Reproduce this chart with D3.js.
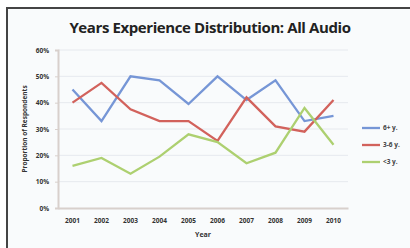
<!DOCTYPE html>
<html>
<head>
<meta charset="utf-8">
<script src="https://cdn.jsdelivr.net/npm/d3@7"></script>
<style>
  body { margin: 0; background: #fff; }
  svg { display: block; }
</style>
</head>
<body>
<svg id="chart" width="410" height="248"></svg>
<script>
const years = ["2001", "2002", "2003", "2004", "2005", "2006", "2007", "2008", "2009", "2010"];
const yTicks = [0, 0.1, 0.2, 0.3, 0.4, 0.5, 0.6];
const seriesNames = ["6+ y.", "3-6 y.", "<3 y."];
const seriesColors = ["#7696d6", "#d2625c", "#add070"];
const sixPlus = [0.45, 0.33, 0.50, 0.485, 0.395, 0.50, 0.41, 0.485, 0.33, 0.35];
const threeToSix = [0.40, 0.475, 0.375, 0.33, 0.33, 0.255, 0.42, 0.31, 0.29, 0.41];
const underThree = [0.16, 0.19, 0.13, 0.195, 0.28, 0.25, 0.17, 0.21, 0.38, 0.24];
const seriesValues = [sixPlus, threeToSix, underThree];

const svg = d3.select("#chart");
const margin = {top: 50, right: 62, bottom: 40, left: 58};
const width = 410 - margin.left - margin.right;
const height = 248 - margin.top - margin.bottom;

// frame
svg.append("rect").attr("x", 7).attr("y", 8).attr("width", 410).attr("height", 248)
    .attr("fill", "#f9fbfc");
svg.append("path").attr("d", "M7,248V8H410")
    .attr("fill", "none").attr("stroke", "#444").attr("stroke-width", 2);

svg.append("text")
    .attr("x", 210).attr("y", 33)
    .attr("text-anchor", "middle")
    .style("font", "bold 15px 'Open Sans', sans-serif")
    .style("letter-spacing", "-0.4px")
    .attr("fill", "#222")
    .text("Years Experience Distribution: All Audio");

const g = svg.append("g").attr("transform", "translate(" + margin.left + "," + margin.top + ")");

const x = d3.scaleBand().domain(years).range([0, width]);
const y = d3.scaleLinear().domain([0, 0.6]).range([height, 0]);

g.selectAll(".grid").data(yTicks.slice(1))
  .enter().append("line")
    .attr("class", "grid")
    .attr("x1", 0).attr("x2", width)
    .attr("y1", function(d) { return y(d); })
    .attr("y2", function(d) { return y(d); })
    .attr("stroke", "#e6e9ee").attr("stroke-width", 1);

const yAxis = g.append("g")
    .call(d3.axisLeft(y).tickValues(yTicks).tickFormat(d3.format(".0%")).tickSize(3).tickPadding(6));
const xAxis = g.append("g")
    .attr("transform", "translate(0," + height + ")")
    .call(d3.axisBottom(x).tickSize(0).tickPadding(10));

[yAxis, xAxis].forEach(function(a) {
  a.select(".domain").attr("stroke", "#d8d0cc").attr("stroke-width", 2);
  a.selectAll(".tick line").attr("stroke", "#d8d0cc");
  a.selectAll("text").style("font", "bold 6.5px 'Open Sans', sans-serif").attr("fill", "#333");
});

svg.append("text")
    .attr("transform", "translate(25," + (margin.top + height / 2) + ") rotate(-90)")
    .attr("text-anchor", "middle")
    .attr("dy", "0.35em")
    .style("font", "bold 6.5px 'Open Sans', sans-serif")
    .attr("fill", "#333")
    .text("Proportion of Respondents");

svg.append("text")
    .attr("x", margin.left + width / 2).attr("y", 237)
    .attr("text-anchor", "middle")
    .style("font", "bold 7px 'Open Sans', sans-serif")
    .attr("fill", "#333")
    .text("Year");

const line = d3.line()
    .x(function(d, i) { return x(years[i]) + x.bandwidth() / 2; })
    .y(function(d) { return y(d); });

g.selectAll(".series").data(seriesValues)
  .enter().append("path")
    .attr("class", "series")
    .attr("d", function(d) { return line(d); })
    .attr("fill", "none")
    .attr("stroke", function(d, i) { return seriesColors[i]; })
    .attr("stroke-width", 2.3);

const legend = svg.selectAll(".legend").data(seriesNames)
  .enter().append("g")
    .attr("class", "legend")
    .attr("transform", function(d, i) { return "translate(362," + (128 + i * 17) + ")"; });

legend.append("line")
    .attr("x1", 0).attr("x2", 18)
    .attr("stroke", function(d, i) { return seriesColors[i]; })
    .attr("stroke-width", 2.3);

legend.append("text")
    .attr("x", 21).attr("dy", "0.35em")
    .style("font", "bold 6.5px 'Open Sans', sans-serif")
    .attr("fill", "#444")
    .text(function(d) { return d; });
</script>
</body>
</html>
